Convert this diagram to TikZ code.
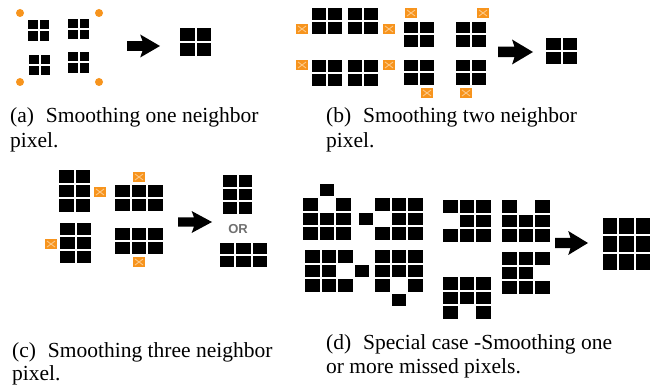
\documentclass[tikz,border=0pt]{standalone}
\usepackage{fontspec}
\setmainfont{Liberation Serif}
\setsansfont{Liberation Sans}
\definecolor{markfill}{HTML}{F7941D}
\definecolor{markhi}{HTML}{FCC98A}
\definecolor{orgray}{HTML}{707070}

\tikzset{
  pix/.style={fill=black},
  dotmark/.style={fill=markfill},
  sqmark/.style={fill=markfill},
  sqmarkx/.style={draw=markhi, line width=0.9pt},
  fatarrow/.style={fill=black},
  caption/.style={anchor=base west, inner sep=0pt, font=\fontsize{21.5}{24}\selectfont},
  ortext/.style={inner sep=0pt, text=orgray, font=\sffamily\bfseries\fontsize{13}{13}\selectfont}
}

% one pixel cell of a grid: origin x, origin y, pitch x, pitch y, column, row
\newcommand\pixcell[6]{\fill[pix] ({#1+(#5)*#3},{#2+(#6)*#4}) rectangle ++({#3-2},{#4-2});}
% a list of column/row cells
\newcommand\pixgrid[5]{\foreach \cc/\rr in {#5} {\pixcell{#1}{#2}{#3}{#4}{\cc}{\rr}}}
% a full block of cols x rows cells
\newcommand\fullgrid[6]{\foreach \cc in {1,...,#5} {\foreach \rr in {1,...,#6} {\pixcell{#1}{#2}{#3}{#4}{\cc-1}{\rr-1}}}}
% orange square neighbour mark centred at x,y
\newcommand\sqmk[2]{\fill[sqmark] ({#1-6},{#2-5}) rectangle ({#1+6},{#2+5});
  \draw[sqmarkx] ({#1-4},{#2-3}) -- ({#1+4},{#2+3}) ({#1-4},{#2+3}) -- ({#1+4},{#2-3});}
% block arrow: left x, right x, centre y, height
\newcommand\blockarrow[4]{\fill[fatarrow] (#1,{#3-0.21*#4}) -- ({#1+0.47*(#2-#1)},{#3-0.21*#4})
  -- ({#1+0.40*(#2-#1)},{#3-0.5*#4}) -- (#2,#3) -- ({#1+0.40*(#2-#1)},{#3+0.5*#4})
  -- ({#1+0.47*(#2-#1)},{#3+0.21*#4}) -- (#1,{#3+0.21*#4}) -- cycle;}

\begin{document}
\begin{tikzpicture}[x=1pt, y=-1pt]
\useasboundingbox (0,0) rectangle (656,385);
\fill[white] (0,0) rectangle (656,385);

% ---- (a) one neighbour ----
\fullgrid{28}{20}{11.5}{11.5}{2}{2}
\fullgrid{68}{19}{11.5}{11}{2}{2}
\fullgrid{29}{55}{11.5}{11}{2}{2}
\fullgrid{68}{52}{11.5}{11.5}{2}{2}
\foreach \px/\py in {20/13, 99/13, 20/82, 99/82} {\fill[dotmark] (\px,\py) circle (4);}
\blockarrow{127}{160}{46}{23}
\fullgrid{180}{28}{16.5}{15}{2}{2}

% ---- (b) two neighbours ----
\fullgrid{312}{8}{16}{14}{2}{2}
\fullgrid{348}{8}{16}{14}{2}{2}
\fullgrid{312}{60}{16}{14}{2}{2}
\fullgrid{348}{60}{16}{14}{2}{2}
\fullgrid{404}{22}{16}{13.5}{2}{2}
\fullgrid{404}{60}{16}{13.5}{2}{2}
\fullgrid{456}{22}{16}{13.5}{2}{2}
\fullgrid{456}{60}{16}{13.5}{2}{2}
\sqmk{302}{29}\sqmk{389}{29}\sqmk{302}{65}\sqmk{389}{65}
\sqmk{411}{13}\sqmk{427}{93}\sqmk{483}{13}\sqmk{466}{93}
\blockarrow{498}{533}{52}{25}
\fullgrid{546}{38}{16.5}{14}{2}{2}

% ---- (c) three neighbours ----
\fullgrid{59}{170}{16.5}{14.5}{2}{3}
\fullgrid{115}{185}{16.5}{14}{3}{2}
\fullgrid{60}{223}{16.5}{14}{2}{3}
\fullgrid{115}{228}{16.5}{14}{3}{2}
\sqmk{100}{192}\sqmk{139}{177}\sqmk{51}{244}\sqmk{139}{262}
\blockarrow{178}{212}{222}{22}
\fullgrid{223}{175}{15.5}{13.5}{2}{3}
\node[ortext] (ortxt) at (238,229) {OR};
\fullgrid{220}{243}{16.3}{13}{3}{2}

% ---- (d) missed pixels ----
\pixgrid{303}{198}{16.5}{14.5}{0/0,2/0,0/1,1/1,2/1,0/2,1/2,2/2,1/-1}
\pixgrid{375}{198}{16.5}{14.5}{0/0,1/0,2/0,1/1,2/1,0/2,1/2,2/2,-1/1}
\pixgrid{443}{200}{16.5}{14.5}{0/0,1/0,2/0,1/1,2/1,0/2,1/2,2/2}
\pixgrid{502}{200}{16.5}{14.5}{0/0,2/0,0/1,1/1,2/1,0/2,1/2,2/2}
\pixgrid{305}{250}{16.5}{14.5}{0/0,1/0,2/0,0/1,1/1,0/2,1/2,2/2,3/1}
\pixgrid{375}{250}{16.5}{14.5}{0/0,1/0,2/0,0/1,1/1,2/1,0/2,2/2,1/3}
\pixgrid{443}{277}{16.5}{14.5}{0/0,1/0,2/0,0/1,1/1,2/1,0/2,2/2}
\pixgrid{502}{252}{16.5}{14.5}{0/0,1/0,2/0,0/1,1/1,0/2,1/2,2/2}
\blockarrow{555}{588}{243}{24}
\fullgrid{603}{218}{16.3}{18}{3}{3}

% ---- captions ----
\node[caption] (capa1) at (10,123) {(a)\hspace{0.55em}Smoothing one neighbor};
\node[caption] (capa2) at (10,147) {pixel.};
\node[caption] (capb1) at (326,123) {(b)\hspace{0.55em}Smoothing two neighbor};
\node[caption] (capb2) at (326,147) {pixel.};
\node[caption] (capc1) at (12,357) {(c)\hspace{0.55em}Smoothing three neighbor};
\node[caption] (capc2) at (12,380) {pixel.};
\node[caption] (capd1) at (326,349) {(d)\hspace{0.55em}Special case -Smoothing one};
\node[caption] (capd2) at (326,373) {or more missed pixels.};
\end{tikzpicture}
\end{document}
